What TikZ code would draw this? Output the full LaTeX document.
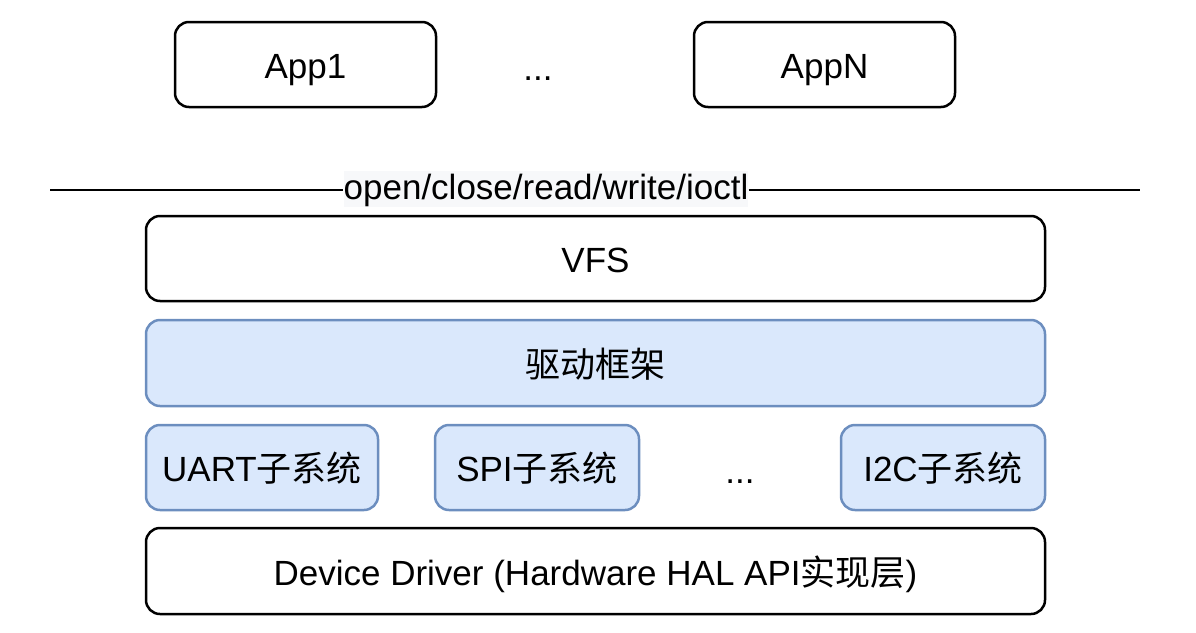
\documentclass[tikz,border=0pt]{standalone}
\usepackage{fontspec}
\setmainfont{Liberation Sans}
\newfontfamily\cjk{Noto Sans CJK SC}
\definecolor{layerfill}{HTML}{DAE8FC}
\definecolor{layerdraw}{HTML}{6C8EBF}
\definecolor{labelbg}{HTML}{F7F8FA}
\tikzset{
	box/.style={draw=black,line width=2.5pt,rounded corners=14pt,fill=white,
		inner sep=0pt,text height=32pt,text depth=4pt,font=\fontsize{35}{42}\selectfont},
	bluebox/.style={box,draw=layerdraw,fill=layerfill},
	plain/.style={inner sep=0pt,text height=32pt,text depth=4pt,font=\fontsize{35}{42}\selectfont}
}
\begin{document}
\begin{tikzpicture}[x=1pt,y=-1pt]
		\useasboundingbox (0,0) rectangle (1196,632);

		% Applikasjoner
		\node[box,minimum width=261pt,minimum height=85pt] (app1) at (305.5,64.5) {App1};
		\node[plain] (appdots) at (538,66) {...};
		\node[box,minimum width=261pt,minimum height=85pt] (appn) at (824.5,64.5) {AppN};

		% Systemkall
		\coordinate (apileft) at (50,190);
		\coordinate (apiright) at (1140,190);
		\node[plain,fill=labelbg,inner ysep=0pt,text height=28pt,text depth=8pt] (api) at (546,189) {open/close/read/write/ioctl};
		\draw[line width=2.8pt] (apileft) -- (apileft -| api.west);
		\draw[line width=2.8pt] (apiright -| api.east) -- (apiright);

		% Lag
		\node[box,minimum width=899pt,minimum height=85pt] (vfs) at (595.5,258.5) {VFS};
		\node[bluebox,minimum width=899pt,minimum height=86pt] (frame) at (595.5,363) {\cjk 驱动框架};
		\node[bluebox,minimum width=232pt,minimum height=85pt] (uart) at (262,467.5) {UART{\cjk 子系统}};
		\node[bluebox,minimum width=204pt,minimum height=85pt] (spi) at (537,467.5) {SPI{\cjk 子系统}};
		\node[plain] (subdots) at (740,469) {...};
		\node[bluebox,minimum width=204pt,minimum height=85pt] (i2c) at (943,467.5) {I2C{\cjk 子系统}};
		\node[box,minimum width=899pt,minimum height=86pt] (dev) at (595.5,571) {Device Driver (Hardware HAL API{\cjk 实现层})};
	\end{tikzpicture}
\end{document}
